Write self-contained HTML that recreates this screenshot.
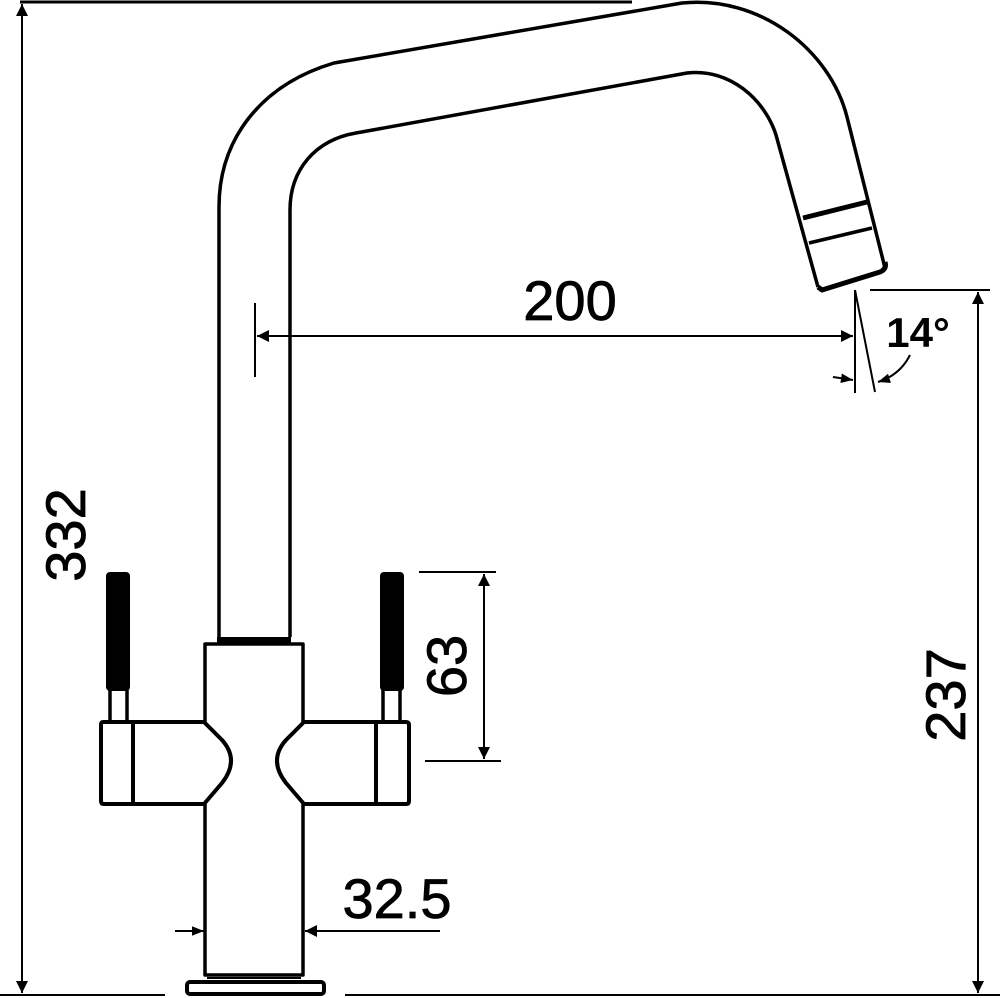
<!DOCTYPE html>
<html><head><style>html,body{margin:0;padding:0;background:#fff;}svg{display:block}</style></head>
<body>
<svg width="1000" height="998" viewBox="0 0 1000 998" xmlns="http://www.w3.org/2000/svg" font-family="Liberation Sans, sans-serif">
<defs>
<marker id="a" viewBox="0 0 10 10" refX="10" refY="5" markerWidth="14" markerHeight="12" markerUnits="userSpaceOnUse" orient="auto-start-reverse"><path d="M0,1 L10,5 L0,9 Z" fill="#000"/></marker>
<marker id="b" viewBox="0 0 10 10" refX="10" refY="5" markerWidth="26" markerHeight="12" markerUnits="userSpaceOnUse" orient="auto-start-reverse"><path d="M0,0 L10,5 L0,10 Z" fill="#000"/></marker>
</defs>
<g fill="none" stroke="#000" stroke-width="3.5" stroke-linejoin="round">
<!-- spout -->
<path d="M219,637 L219,207 C219,140 260,85 334,63 L682,3 C760,-5 830,50 847,117 L885,268"/>
<path d="M290,637 L290,210 C290,170 315,140 356,133 L687,73 C730,68 765,100 776,135 L818,287"/>
<path d="M818,287 L822,290 L880,272 Q887,269 885,262" stroke-width="5"/>
<path d="M803,218 L867,202" stroke-width="5"/>
<path d="M809,243 L872,228" stroke-width="3.5"/>
<!-- body -->
<path d="M217,640 L291,640" stroke-width="6"/>
<path d="M205,722 L205,644 L303,644 L303,722"/>
<path d="M205,803 L205,975 L303,975 L303,803"/>
<path d="M207,978 L301,978" stroke-width="2"/>
<rect x="187" y="982" width="137" height="12" rx="3" stroke-width="4"/>
<!-- left handle -->
<path d="M204,722 L103,722 Q101,722 101,725 L101,801 Q101,804 104,804 L204,804 L222,783 Q240,760 222,740 Z" stroke-width="4"/>
<path d="M133,722 L133,804" stroke-width="4"/>
<path d="M110,690 L110,722 M127,690 L127,722"/>
<!-- right handle -->
<path d="M304,722 L406,722 Q409,722 409,725 L409,801 Q409,804 406,804 L304,804 L286,783 Q268,760 286,740 Z" stroke-width="4"/>
<path d="M376,722 L376,804" stroke-width="4"/>
<path d="M383,690 L383,722 M400,690 L400,722"/>
</g>
<rect x="106" y="572" width="24" height="119" rx="4" fill="#000"/>
<rect x="380" y="572" width="24" height="119" rx="4" fill="#000"/>
<g stroke="#000" fill="none" stroke-width="2">
<!-- 332 -->
<line x1="20" y1="2" x2="632" y2="2" stroke-width="3"/>
<line x1="22" y1="4" x2="22" y2="993" marker-start="url(#b)" marker-end="url(#b)"/>
<line x1="0" y1="995" x2="165" y2="995"/>
<line x1="345" y1="995" x2="1000" y2="995"/>
<!-- 237 -->
<line x1="870" y1="290" x2="990" y2="290"/>
<line x1="978" y1="292" x2="978" y2="993" marker-start="url(#b)" marker-end="url(#b)"/>
<!-- 200 -->
<line x1="255" y1="303" x2="255" y2="377"/>
<line x1="257" y1="336" x2="853" y2="336" marker-start="url(#b)" marker-end="url(#b)"/>
<!-- 14 -->
<line x1="855" y1="290" x2="855" y2="393"/>
<line x1="855" y1="290" x2="875" y2="392"/>
<path d="M910,355 Q900,375 878,382" marker-end="url(#a)"/>
<line x1="833" y1="377" x2="853" y2="380" marker-end="url(#a)"/>
<!-- 63 -->
<line x1="419" y1="572" x2="496" y2="572"/>
<line x1="425" y1="761" x2="501" y2="761"/>
<line x1="484" y1="574" x2="484" y2="759" marker-start="url(#b)" marker-end="url(#b)"/>
<!-- 32.5 -->
<line x1="175" y1="931" x2="204" y2="931" marker-end="url(#a)"/>
<line x1="440" y1="931" x2="305" y2="931" marker-end="url(#b)"/>
</g>
<g fill="#000" font-size="56" stroke="#000" stroke-width="0.8">
<text x="570" y="320" text-anchor="middle">200</text>
<text x="397" y="918" text-anchor="middle">32.5</text>
<text x="918" y="347" text-anchor="middle" font-size="42" font-weight="bold" stroke-width="0">14°</text>
<text transform="translate(85,535) rotate(-90)" text-anchor="middle">332</text>
<text transform="translate(466,666) rotate(-90)" text-anchor="middle">63</text>
<text transform="translate(965,695) rotate(-90)" text-anchor="middle">237</text>
</g>
</svg>
</body></html>
